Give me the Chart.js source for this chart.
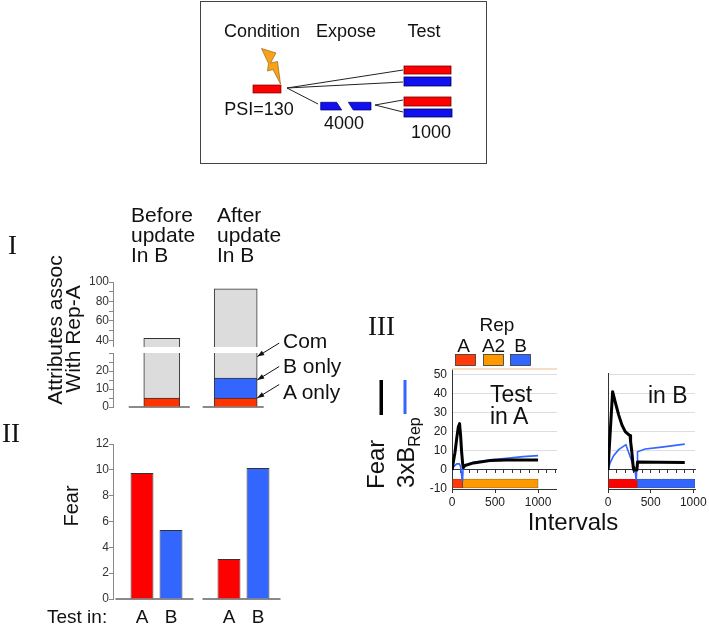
<!DOCTYPE html>
<html>
<head>
<meta charset="utf-8">
<title>Rep update in context B</title>
<script src="https://cdn.jsdelivr.net/npm/chart.js@4.4.1/dist/chart.umd.min.js"></script>
<style>
  html, body { margin: 0; padding: 0; background: #fff; }
  #page { position: relative; width: 709px; height: 626px; overflow: hidden;
          font-family: "Liberation Sans", Arial, sans-serif; }
  #page canvas { position: absolute; }
  #overlay { position: absolute; left: 0; top: 0; pointer-events: none; }
  #overlay text { font-family: "Liberation Sans", Arial, sans-serif; fill: #111; }
  #overlay .roman { font-family: "Liberation Serif", "Times New Roman", serif; }
</style>
</head>
<body>
<div id="page">
  <canvas id="attrUpper"></canvas>
  <canvas id="attrLower"></canvas>
  <canvas id="fearBars"></canvas>
  <canvas id="testA"></canvas>
  <canvas id="testB"></canvas>

  <svg id="overlay" width="709" height="626">
    <!-- protocol sketch -->
    <rect x="200.5" y="1.5" width="286" height="162" fill="none" stroke="#444" stroke-width="1"/>
    <g font-size="18" text-anchor="middle">
      <text x="262" y="37">Condition</text>
      <text x="346" y="37">Expose</text>
      <text x="424" y="37">Test</text>
      <text x="259" y="115">PSI=130</text>
      <text x="344" y="129">4000</text>
      <text x="431" y="138">1000</text>
    </g>
    <g stroke="#222" stroke-width="1">
      <line x1="287" y1="88" x2="403" y2="70"/>
      <line x1="287" y1="88" x2="403" y2="82"/>
      <line x1="287" y1="88" x2="318" y2="104"/>
      <line x1="375" y1="105" x2="403" y2="100"/>
      <line x1="375" y1="105" x2="403" y2="112"/>
    </g>
    <polygon points="261.5,48.5 276,53 270.5,63 277.5,61.5 280.5,84 273,69.5 267.5,71 268.5,63.5"
             fill="#f7a21b" stroke="#9c6410" stroke-width="0.7"/>
    <rect x="253" y="85" width="28" height="8" fill="#ff0000" stroke="#7a0000" stroke-width="0.7"/>
    <polygon points="320.7,102.3 336.7,102.3 341.7,110 320.7,110" fill="#1010f0" stroke="#000060" stroke-width="0.7"/>
    <polygon points="348.3,102.3 371,102.3 371,110 353.3,110" fill="#1010f0" stroke="#000060" stroke-width="0.7"/>
    <rect x="404" y="66" width="47" height="8" fill="#ff0000" stroke="#700000" stroke-width="0.8"/>
    <rect x="404" y="77" width="47" height="9" fill="#1010f0" stroke="#000050" stroke-width="0.8"/>
    <rect x="404" y="97" width="47" height="9" fill="#ff0000" stroke="#700000" stroke-width="0.8"/>
    <rect x="404" y="109" width="48" height="8" fill="#1010f0" stroke="#000050" stroke-width="0.8"/>

    <!-- panel I -->
    <text class="roman" x="8" y="254" font-size="27">I</text>
    <g font-size="21">
      <text x="131" y="222">Before</text>
      <text x="131" y="242">update</text>
      <text x="131" y="262">In B</text>
      <text x="217" y="222">After</text>
      <text x="217" y="242">update</text>
      <text x="217" y="262">In B</text>
      <text x="283" y="348">Com</text>
      <text x="283" y="373">B only</text>
      <text x="283" y="399">A only</text>
      <text transform="translate(61.5,330) rotate(-90)" text-anchor="middle">Attributes assoc</text>
      <text transform="translate(80,339) rotate(-90)" text-anchor="middle">With Rep-A</text>
    </g>

    <!-- panel II -->
    <text class="roman" x="2" y="442" font-size="27">II</text>
    <text transform="translate(78,506) rotate(-90)" text-anchor="middle" font-size="20">Fear</text>
    <text x="47" y="623" font-size="19">Test in:</text>

    <!-- panel III -->
    <text class="roman" x="368" y="335" font-size="27">III</text>
    <g font-size="19" text-anchor="middle">
      <text x="497" y="331">Rep</text>
      <text x="463.5" y="352">A</text>
      <text x="493.5" y="352">A2</text>
      <text x="520.5" y="352">B</text>
    </g>
    <rect x="455.5" y="354.5" width="20" height="11" fill="#ff3b0a" stroke="#333" stroke-width="0.8"/>
    <rect x="483.5" y="354.5" width="20" height="11" fill="#ff9900" stroke="#333" stroke-width="0.8"/>
    <rect x="510.5" y="354.5" width="20" height="11" fill="#3366ff" stroke="#333" stroke-width="0.8"/>
    <rect x="379.5" y="380" width="3.5" height="35" fill="#000"/>
    <rect x="403.5" y="380" width="3" height="34" fill="#3366ff"/>
    <text transform="translate(384,489) rotate(-90)" font-size="24">Fear</text>
    <text transform="translate(414,488) rotate(-90)" font-size="24">3xB<tspan font-size="16" dy="6">Rep</tspan></text>
    <g font-size="23">
      <text x="490" y="402">Test</text>
      <text x="490" y="424">in A</text>
      <text x="648" y="403">in B</text>
    </g>
    <text x="573" y="530" font-size="24" text-anchor="middle">Intervals</text>
  </svg>
</div>

<script>
// ---- Panel I: attributes associated with Rep-A ----
const attrGroups = ['Before update In B', 'After update In B'];
const attrSegments = ['A only', 'B only', 'Com'];
const attrAOnly = [5, 5];
const attrBOnly = [0, 11];
const attrCommon = [37, 77];
const attrPointers = [5, 15, 28];          // A only, B only, Com arrows
const attrTicksUpper = [40, 50, 60, 70, 80, 90, 100];
const attrLabelsUpper = [40, 60, 80, 100];
const attrTicksLower = [0, 5, 10, 15, 20, 25, 30];
const attrLabelsLower = [0, 10, 20];

// ---- Panel II: fear when tested in A or B ----
const testContexts = ['A', 'B'];
const fearTestA = [9.75, 3.1];
const fearTestB = [5.35, 10.15];
const fearTicks = [0, 2, 4, 6, 8, 10, 12];

// ---- Panel III: fear and 3xB_Rep over test intervals ----
const intervalTicks = [0, 500, 1000];
const fearAxisTicks = [-10, 0, 10, 20, 30, 40, 50];

const testAFearX = [0, 15, 35, 54, 73, 88, 100, 112, 124, 132, 150, 250, 440, 630, 1000];
const testAFearY = [0, 4, 9.3, 16.3, 22.5, 24.3, 18, 9.3, 3.2, 1.2, 2.3, 3.7, 4.9, 5.2, 5.2];
const testARepX = [0, 23, 54, 85, 100, 110, 118, 124, 131, 160, 247, 440, 633, 826, 1000];
const testARepY = [0, 1.9, 3.2, 3.2, 2, -2, -5.5, -4, 2.3, 2.9, 4, 5.3, 6.1, 7, 7.5];
const testAContext = [[0, 125], [125, 1000]];   // Rep A, then Rep A2

const testBFearX = [0, 54, 86, 125, 163, 202, 241, 258, 265, 280, 296, 303, 339, 346, 600, 900];
const testBFearY = [0, 41.2, 35.6, 29, 23.7, 20.2, 18.6, 18.1, 15, 9.3, 1.4, 0, 0, 4.2, 4.1, 3.9];
const testBRepX = [0, 27, 66, 125, 163, 210, 260, 300, 322, 330, 340, 346, 436, 630, 900];
const testBRepY = [0, 4, 7.5, 10.7, 11.9, 13.3, 7, 2, -2, -5.5, 2, 9.6, 11, 12, 13.6];
const testBContext = [[0, 345], [345, 1020]];   // Rep A, then Rep B

const CONTEXT_ROW = -7.1;
const BLUE = '#3366ff';

Chart.defaults.font.family = '"Liberation Sans", Arial, sans-serif';
Chart.defaults.color = '#333';
Chart.defaults.animation = false;
Chart.defaults.responsive = false;
Chart.defaults.events = [];
Chart.defaults.plugins.legend.display = false;
Chart.defaults.plugins.tooltip.enabled = false;

function place(id, left, top, width, height) {
  const c = document.getElementById(id);
  c.style.left = left + 'px';
  c.style.top = top + 'px';
  c.style.width = width + 'px';
  c.style.height = height + 'px';
  c.width = width;
  c.height = height;
  return c;
}

// keep axis boxes at a fixed size so the plot areas line up with each other
function fixedWidth(w) {
  return (scale) => { scale.width = w; scale.paddingTop = 0; scale.paddingBottom = 0; };
}
function fixedHeight(h) {
  return (scale) => { scale.height = h; scale.paddingLeft = 0; scale.paddingRight = 0; };
}
function useTicks(values) {
  return (scale) => { scale.ticks = values.map(v => ({ value: v })); };
}
function points(xs, ys) {
  return xs.map((x, i) => ({ x: x, y: ys[i] }));
}

function valueAxis(min, max, ticks, labels) {
  return {
    min: min,
    max: max,
    afterBuildTicks: useTicks(ticks),
    afterFit: fixedWidth(30),
    ticks: {
      padding: 0, autoSkip: false, color: '#333', font: { size: 12 },
      callback: (v) => labels.includes(v) ? String(v) : ''
    },
    grid: { drawOnChartArea: false, drawTicks: true, tickLength: 4, color: '#888' },
    border: { color: '#888', width: 1 }
  };
}

// gray floor line under each group of bars
const groundLines = {
  id: 'groundLines',
  beforeDatasetsDraw(chart, args, opts) {
    const { ctx, scales: { x, y } } = chart;
    const y0 = y.getPixelForValue(0);
    ctx.save();
    ctx.strokeStyle = opts.color;
    ctx.lineWidth = opts.width;
    chart.data.labels.forEach((label, i) => {
      const cx = x.getPixelForValue(i);
      ctx.beginPath();
      ctx.moveTo(cx + opts.from, y0);
      ctx.lineTo(cx + opts.to, y0);
      ctx.stroke();
    });
    ctx.restore();
  }
};

// arrows from the segment names to the right edge of the "after" bar
const pointerArrows = {
  id: 'pointerArrows',
  afterDraw(chart, args, opts) {
    const { ctx, scales: { y } } = chart;
    const bar = chart.getDatasetMeta(chart.data.datasets.length - 1).data[0];
    const edge = bar.x + bar.width / 2;
    ctx.save();
    ctx.strokeStyle = '#111';
    ctx.fillStyle = '#111';
    ctx.lineWidth = 1;
    opts.values.forEach(v => {
      const ty = y.getPixelForValue(v);
      const sx = edge + opts.dx, sy = ty + opts.dy;
      const a = Math.atan2(ty - sy, edge - sx);
      ctx.beginPath();
      ctx.moveTo(sx, sy);
      ctx.lineTo(edge, ty);
      ctx.stroke();
      ctx.beginPath();
      ctx.moveTo(edge, ty);
      ctx.lineTo(edge - 7 * Math.cos(a) + 2.5 * Math.sin(a), ty - 7 * Math.sin(a) - 2.5 * Math.cos(a));
      ctx.lineTo(edge - 7 * Math.cos(a) - 2.5 * Math.sin(a), ty - 7 * Math.sin(a) + 2.5 * Math.cos(a));
      ctx.closePath();
      ctx.fill();
    });
    ctx.restore();
  }
};

// test context letter under every bar
const barCaptions = {
  id: 'barCaptions',
  afterDraw(chart, args, opts) {
    const { ctx, chartArea } = chart;
    ctx.save();
    ctx.font = opts.font;
    ctx.fillStyle = opts.color;
    ctx.textAlign = 'center';
    ctx.textBaseline = 'alphabetic';
    chart.data.datasets.forEach((ds, i) => {
      chart.getDatasetMeta(i).data.forEach(bar => {
        ctx.fillText(ds.label, bar.x, chartArea.bottom + opts.offset);
      });
    });
    ctx.restore();
  }
};

// thin frame line along the top of the plot
const topRule = {
  id: 'topRule',
  beforeDatasetsDraw(chart, args, opts) {
    const { ctx, chartArea } = chart;
    ctx.save();
    ctx.strokeStyle = opts.color;
    ctx.lineWidth = 1.5;
    ctx.beginPath();
    ctx.moveTo(chartArea.left, chartArea.top);
    ctx.lineTo(chartArea.right, chartArea.top);
    ctx.stroke();
    ctx.restore();
  }
};

// ---- Panel I charts (broken axis: two stacked plots) ----
function attrDatasets() {
  const segments = [attrAOnly, attrBOnly, attrCommon];
  const colors = ['#ff3300', BLUE, '#dcdcdc'];
  const thickness = [36, 43];
  const sets = [];
  attrGroups.forEach((group, g) => {
    segments.forEach((values, s) => {
      if (!values[g]) return;
      sets.push({
        label: group + ': ' + attrSegments[s],
        data: [{ x: g, y: values[g] }],
        backgroundColor: colors[s],
        borderColor: '#333',
        borderWidth: 1,
        barThickness: thickness[g],
        clip: 0
      });
    });
  });
  return sets;
}

function attrChart(canvas, yAxis, padding, extraPlugins, pluginOpts) {
  return new Chart(canvas, {
    type: 'bar',
    data: { labels: attrGroups, datasets: attrDatasets() },
    options: {
      layout: { padding: padding },
      scales: {
        x: { type: 'linear', display: false, stacked: true, offset: false, min: -0.66, max: 1.64 },
        y: Object.assign({ stacked: true }, yAxis)
      },
      plugins: pluginOpts
    },
    plugins: extraPlugins
  });
}

attrChart(place('attrUpper', 83, 274, 200, 73),
  valueAxis(33, 100, attrTicksUpper, attrLabelsUpper),
  { top: 8, bottom: 0, left: 0, right: 0 }, [], {});

attrChart(place('attrLower', 83, 330, 200, 85),
  valueAxis(0, 30, attrTicksLower, attrLabelsLower),
  { top: 23, bottom: 8, left: 0, right: 0 },
  [groundLines, pointerArrows],
  {
    groundLines: { from: -33, to: 28, color: '#8a8a8a', width: 2 },
    pointerArrows: { values: attrPointers, dx: 22, dy: -13.5 }
  });

// ---- Panel II chart ----
const fearByTest = [fearTestA, fearTestB];
const fearColors = ['#ff0000', BLUE];

new Chart(place('fearBars', 83, 436, 204, 190), {
  type: 'bar',
  data: {
    labels: attrGroups,
    datasets: testContexts.map((name, i) => ({
      label: name,
      data: fearByTest[i],
      backgroundColor: fearColors[i],
      borderColor: '#333',
      borderWidth: 1,
      categoryPercentage: 0.667,
      barPercentage: 0.79
    }))
  },
  options: {
    layout: { padding: { top: 8, bottom: 27, left: 0, right: 0 } },
    scales: {
      x: { display: false },
      y: valueAxis(0, 12, fearTicks, fearTicks)
    },
    plugins: {
      groundLines: { from: -41, to: 37, color: '#8a8a8a', width: 2 },
      barCaptions: { font: '19px "Liberation Sans", Arial, sans-serif', color: '#111', offset: 24 }
    }
  },
  plugins: [groundLines, barCaptions]
});

// ---- Panel III charts ----
function intervalChart(canvas, cfg) {
  return new Chart(canvas, {
    type: 'line',
    data: {
      datasets: [
        {
          type: 'bar', label: 'Rep', indexAxis: 'y', grouped: false, order: 3,
          xAxisID: 'x', yAxisID: 'y',
          data: cfg.context.map(span => ({ x: span, y: CONTEXT_ROW })),
          backgroundColor: cfg.contextColors,
          borderColor: '#444', borderWidth: 0.6, borderSkipped: false, barThickness: 9
        },
        {
          label: '3xB Rep', order: 2, xAxisID: 'x', yAxisID: 'y',
          data: points(cfg.repX, cfg.repY),
          borderColor: BLUE, borderWidth: 1.6, pointRadius: 0
        },
        {
          label: 'Fear', order: 1, xAxisID: 'x', yAxisID: 'y',
          data: points(cfg.fearX, cfg.fearY),
          borderColor: '#000', borderWidth: 3, pointRadius: 0, borderJoinStyle: 'round'
        }
      ]
    },
    options: {
      layout: { padding: { top: 8, right: cfg.padRight, bottom: 0, left: 0 } },
      scales: {
        x: {
          type: 'linear', min: 0, max: cfg.xMax, offset: false,
          afterBuildTicks: useTicks(intervalTicks), afterFit: fixedHeight(20),
          ticks: { padding: 2, autoSkip: false, maxRotation: 0, color: '#222', font: { size: 12 },
                   callback: (v) => String(v) },
          grid: { offset: false, drawOnChartArea: false, drawTicks: true, tickLength: 4, color: '#333' },
          border: { color: '#333' }
        },
        x2: {
          type: 'linear', axis: 'x', position: { y: 0 }, min: 0, max: cfg.xMax, offset: false,
          afterBuildTicks: useTicks(cfg.minorTicks), afterFit: fixedHeight(0),
          ticks: { display: false },
          grid: { offset: false, drawOnChartArea: false, drawTicks: true, tickLength: 3, color: '#333' },
          border: { color: '#333' }
        },
        y: {
          type: 'linear', min: -10, max: cfg.yMax, offset: false,
          afterBuildTicks: useTicks(fearAxisTicks), afterFit: fixedWidth(cfg.axisWidth),
          ticks: { display: cfg.showLabels, padding: 5, autoSkip: false, color: '#222', font: { size: 12 } },
          grid: { offset: false, drawTicks: false,
                  color: (c) => (c.tick && c.tick.value > 0) ? '#dedede' : 'rgba(0,0,0,0)' },
          border: { color: '#333' }
        }
      },
      plugins: { topRule: { color: '#f2d6b3' } }
    },
    plugins: cfg.topRule ? [topRule] : []
  });
}

intervalChart(place('testA', 400, 361, 157, 148), {
  fearX: testAFearX, fearY: testAFearY,
  repX: testARepX, repY: testARepY,
  context: testAContext, contextColors: ['#ff3b0a', '#ff9900'],
  xMax: 1220, yMax: 53, axisWidth: 52, padRight: 0, showLabels: true, topRule: true,
  minorTicks: [0, 100, 200, 300, 400, 500, 600, 700, 800, 900, 1000, 1100, 1200]
});

intervalChart(place('testB', 600, 365, 109, 144), {
  fearX: testBFearX, fearY: testBFearY,
  repX: testBRepX, repY: testBRepY,
  context: testBContext, contextColors: ['#ff0000', BLUE],
  xMax: 1020, yMax: 51, axisWidth: 8, padRight: 14, showLabels: false, topRule: false,
  minorTicks: [0, 100, 200, 300, 400, 500, 600, 700, 800, 900, 1000]
});
</script>
</body>
</html>
